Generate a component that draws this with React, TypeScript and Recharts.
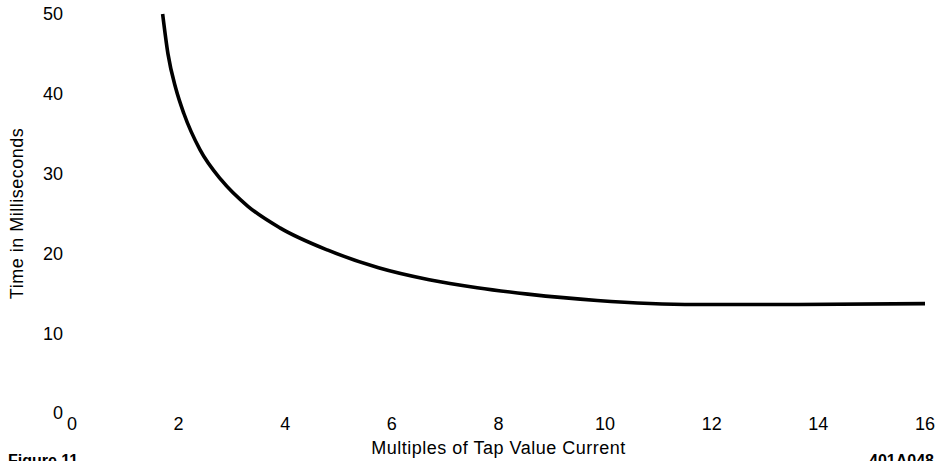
import React from 'react'
import { LineChart, Line, XAxis, YAxis, Label } from 'recharts'

// multiples of tap value current
const multiples = [1.7, 1.8, 1.95, 2.1, 2.4, 2.8, 3.3, 3.9, 4.8, 5.75, 6.7, 7.6, 8.55, 9.85, 11.7, 13.6, 16]
// time in milliseconds
const timeMs = [50, 45, 40.6, 37.5, 33.0, 29.2, 25.9, 23.2, 20.4, 18.2, 16.7, 15.7, 14.9, 14.1, 13.6, 13.6, 13.7]

const xTicks = [0, 2, 4, 6, 8, 10, 12, 14, 16]
const yTicks = [0, 10, 20, 30, 40, 50]

const FONT = '"Liberation Sans", Arial, Helvetica, sans-serif'
const tickStyle = { fill: '#000', fontFamily: FONT, fontSize: 18 }

const data = multiples.map((m, i) => ({ m, t: timeMs[i] }))

export default function App() {
  return (
    <div style={{ position: 'absolute', left: 0, top: 0, width: 936, height: 461, overflow: 'hidden', background: '#fff' }}>
      <LineChart width={936} height={461} data={data} margin={{ top: 14, right: 11, left: 12, bottom: 8 }}>
        <XAxis
          type="number"
          dataKey="m"
          domain={[0, 16]}
          ticks={xTicks}
          axisLine={false}
          tickLine={false}
          tickSize={0}
          tickMargin={4}
          height={40}
          tick={tickStyle}
          interval={0}
        >
          <Label
            value="Multiples of Tap Value Current"
            position="insideBottom"
            offset={-1}
            style={{ fill: '#000', fontFamily: FONT, fontSize: 18, letterSpacing: 0.5 }}
          />
        </XAxis>
        <YAxis
          type="number"
          domain={[0, 50]}
          ticks={yTicks}
          axisLine={false}
          tickLine={false}
          tickSize={0}
          tickMargin={9}
          width={60}
          tick={tickStyle}
          interval={0}
        >
          <Label
            value="Time in Milliseconds"
            angle={-90}
            position="center"
            dx={-25}
            style={{ fill: '#000', fontFamily: FONT, fontSize: 18, letterSpacing: 0.5, textAnchor: 'middle' }}
          />
        </YAxis>
        <Line
          type="monotone"
          dataKey="t"
          stroke="#000"
          strokeWidth={3.6}
          dot={false}
          activeDot={false}
          isAnimationActive={false}
        />
      </LineChart>
      <div style={{ position: 'absolute', left: 8, top: 452, fontFamily: FONT, fontSize: 16, fontWeight: 'bold', color: '#000', lineHeight: '18px' }}>
        Figure 11
      </div>
      <div style={{ position: 'absolute', right: 2, top: 452, fontFamily: FONT, fontSize: 16, fontWeight: 'bold', color: '#000', lineHeight: '18px' }}>
        401A048
      </div>
    </div>
  )
}
